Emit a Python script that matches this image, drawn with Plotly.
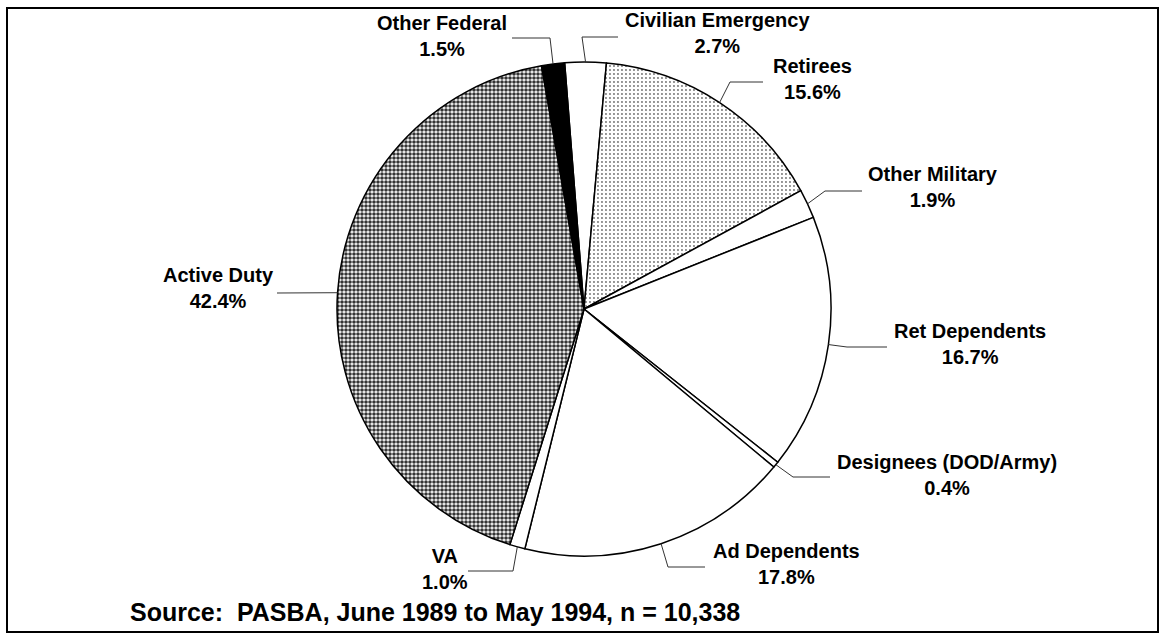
import math
import plotly.graph_objects as go

# ---- data ----
categories = ["Civilian Emergency", "Retirees", "Other Military", "Ret Dependents",
              "Designees (DOD/Army)", "Ad Dependents", "VA", "Active Duty", "Other Federal"]
percentages = [2.7, 15.6, 1.9, 16.7, 0.4, 17.8, 1.0, 42.4, 1.5]
source_text = "Source:  PASBA, June 1989 to May 1994, n = 10,338"

# ---- styles ----
W, H = 1161, 635
fill_colors = ["white", "white", "white", "white", "white", "white", "white", "white", "black"]
pattern_shapes = ["", ".", "", "", "", "", "", ".", ""]
pattern_fg = ["black", "#707070", "black", "black", "black", "black", "black", "#333333", "black"]
pattern_solidity = [0.3, 0.18, 0.3, 0.3, 0.3, 0.3, 0.3, 0.65, 0.3]

ROT = -4.5
CX, CY, R = 584, 309, 247   # pie centre / radius in pixels (layout)

# label layout: (label centre px, elbow px, end px)
label_layout = {
    "Civilian Emergency":   ((717, 33),  (582, 37),  (618, 37)),
    "Retirees":             ((812, 79),  (730, 82),  (763, 82)),
    "Other Military":       ((933, 187), (825, 191), (862, 191)),
    "Ret Dependents":       ((970, 344), (847, 347), (887, 347)),
    "Designees (DOD/Army)": ((947, 475), (793, 477), (830, 477)),
    "Ad Dependents":        ((786, 564), (668, 567), (705, 567)),
    "VA":                   ((445, 569), (513, 571), (468, 571)),
    "Active Duty":          ((218, 288), (277, 293), (277, 293)),
    "Other Federal":        ((442, 36),  (550, 38),  (512, 38)),
}


def px(x, y):
    return x / W, 1 - y / H


fig = go.Figure()
fig.add_trace(go.Pie(
    labels=categories,
    values=percentages,
    sort=False,
    direction="clockwise",
    rotation=ROT,
    textinfo="none",
    hoverinfo="label+percent",
    marker=dict(
        colors=fill_colors,
        line=dict(color="black", width=1.5),
        pattern=dict(shape=pattern_shapes, fgcolor=pattern_fg, bgcolor="white",
                     size=4, solidity=pattern_solidity),
    ),
    domain=dict(x=[(CX - R) / W, (CX + R) / W], y=[1 - (CY + R) / H, 1 - (CY - R) / H]),
    showlegend=False,
))

shapes = []
annotations = []
total = sum(percentages)
cum = 0.0
for name, v in zip(categories, percentages):
    mid = cum + v / 2
    cum += v
    ang = math.radians(ROT + 360 * mid / total)
    sx, sy = CX + R * math.sin(ang), CY - R * math.cos(ang)
    (lx, ly), (ex, ey), (tx, ty) = label_layout[name]
    pts = [(sx, sy), (ex, ey), (tx, ty)]
    path = "M " + " L ".join(f"{px(a, b)[0]},{px(a, b)[1]}" for a, b in pts)
    shapes.append(dict(type="path", xref="paper", yref="paper", path=path,
                       line=dict(color="#333", width=1)))
    ax, ay = px(lx, ly)
    annotations.append(dict(x=ax, y=ay, xref="paper", yref="paper", showarrow=False,
                            xanchor="center", yanchor="middle",
                            text=f"<b>{name}<br>{v:.1f}%</b>",
                            font=dict(family="Liberation Sans, Arial", size=20, color="black")))

sx0, sy0 = px(128, 612)
annotations.append(dict(x=sx0, y=sy0, xref="paper", yref="paper", showarrow=False,
                        xanchor="left", yanchor="middle", text=f"<b>{source_text}</b>",
                        font=dict(family="Liberation Sans, Arial", size=25, color="black")))

# frame
fx0, fy0 = px(7, 632)
fx1, fy1 = px(1158, 8)
shapes.append(dict(type="rect", xref="paper", yref="paper", x0=fx0, y0=fy0, x1=fx1, y1=fy1,
                   line=dict(color="black", width=2), fillcolor="rgba(0,0,0,0)"))

fig.update_layout(
    width=W, height=H,
    margin=dict(l=0, r=0, t=0, b=0),
    paper_bgcolor="white", plot_bgcolor="white",
    shapes=shapes, annotations=annotations,
)

fig.write_html("out.html", config={"displayModeBar": False},
               post_script="document.body.style.margin='0';document.body.style.overflow='hidden';")
